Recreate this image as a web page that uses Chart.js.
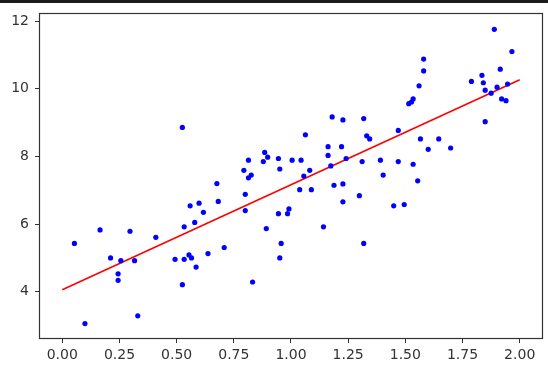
<!DOCTYPE html>
<html>
<head>
<meta charset="utf-8">
<script src="https://cdn.jsdelivr.net/npm/chart.js@4.4.1/dist/chart.umd.min.js"></script>
<style>
  html, body { margin: 0; padding: 0; background: #fff; }
  #wrap { position: relative; width: 548px; height: 372px; }
  #topbar { position: absolute; left: 0; top: 0; width: 548px; height: 3px; background: #1b1b1b; }
</style>
</head>
<body>
<div id="wrap">
  <canvas id="chart" width="548" height="372"></canvas>
  <div id="topbar"></div>
</div>
<script>
// scatter data
const xs = [0.053, 0.099, 0.165, 0.211, 0.244, 0.244, 0.256, 0.296, 0.316, 0.330,
  0.409, 0.493, 0.525, 0.525, 0.533, 0.533, 0.554, 0.565, 0.559, 0.579,
  0.585, 0.598, 0.617, 0.637, 0.676, 0.682, 0.708, 0.794, 0.800, 0.800,
  0.814, 0.814, 0.826, 0.832, 0.879, 0.885, 0.898, 0.892, 0.945, 0.951,
  0.945, 0.957, 0.951, 0.985, 0.991, 1.005, 1.044, 1.038, 1.056, 1.063,
  1.082, 1.089, 1.142, 1.162, 1.162, 1.174, 1.180, 1.188, 1.221, 1.227,
  1.227, 1.227, 1.241, 1.299, 1.311, 1.318, 1.318, 1.331, 1.344, 1.391,
  1.403, 1.449, 1.469, 1.469, 1.495, 1.515, 1.527, 1.534, 1.534, 1.554,
  1.560, 1.566, 1.580, 1.580, 1.600, 1.646, 1.698, 1.789, 1.835, 1.841,
  1.849, 1.849, 1.875, 1.889, 1.901, 1.915, 1.921, 1.940, 1.947, 1.966];
const ys = [5.43, 3.06, 5.83, 5.00, 4.53, 4.34, 4.92, 5.79, 4.92, 3.29,
  5.61, 4.96, 8.86, 4.21, 5.92, 4.96, 5.09, 5.00, 6.54, 6.05,
  4.73, 6.62, 6.35, 5.13, 7.20, 6.67, 5.31, 7.59, 6.88, 6.40,
  7.89, 7.37, 7.45, 4.29, 7.85, 8.12, 7.98, 5.87, 7.94, 7.63,
  6.31, 5.43, 5.00, 6.31, 6.45, 7.89, 7.89, 7.02, 7.42, 8.64,
  7.59, 7.02, 5.92, 8.29, 8.03, 7.72, 9.17, 7.15, 8.29, 9.08,
  7.19, 6.66, 7.94, 6.84, 7.85, 9.12, 5.43, 8.61, 8.52, 7.89,
  7.45, 6.54, 8.77, 7.85, 6.58, 9.56, 9.61, 9.70, 7.77, 7.28,
  10.09, 8.52, 10.53, 10.88, 8.21, 8.52, 8.25, 10.22, 10.40, 10.18,
  9.96, 9.03, 9.87, 11.76, 10.05, 10.58, 9.70, 9.65, 10.14, 11.10];

// fitted line endpoints
const lineX = [0, 2];
const lineY = [4.06, 10.27];

const xTicks = [0, 0.25, 0.5, 0.75, 1.0, 1.25, 1.5, 1.75, 2.0];
const yTicks = [4, 6, 8, 10, 12];

const points = xs.map((x, i) => ({ x: x, y: ys[i] }));
const linePts = lineX.map((x, i) => ({ x: x, y: lineY[i] }));

const frame = {
  id: 'frame',
  afterDraw(chart) {
    const a = chart.chartArea, c = chart.ctx;
    c.save();
    c.strokeStyle = '#333';
    c.lineWidth = 1.2;
    c.strokeRect(Math.round(a.left) - 0.5, Math.round(a.top) - 0.5,
      Math.round(a.right - a.left) + 1, Math.round(a.bottom - a.top) + 1);
    c.restore();
  }
};

const tickFont = { family: 'DejaVu Sans', size: 14 };

new Chart('chart', {
  data: {
    datasets: [{
      type: 'scatter',
      data: points,
      backgroundColor: '#0000ff',
      borderColor: '#0000ff',
      pointRadius: 2.6,
      borderWidth: 0,
      order: 0
    }, {
      type: 'line',
      data: linePts,
      borderColor: '#ff0000',
      borderWidth: 1.6,
      pointRadius: 0,
      fill: false,
      tension: 0,
      order: 1
    }]
  },
  options: {
    responsive: false,
    animation: false,
    layout: { padding: { left: 0, right: 6, top: 11, bottom: 0 } },
    plugins: { legend: { display: false }, tooltip: { enabled: false } },
    scales: {
      x: {
        type: 'linear',
        min: -0.0975,
        max: 2.0975,
        afterBuildTicks: s => { s.ticks = xTicks.map(v => ({ value: v })); },
        afterFit: s => { s.height = 34; },
        ticks: {
          font: tickFont,
          color: '#333',
          padding: 4,
          maxRotation: 0,
          callback: v => v.toFixed(2)
        },
        grid: { drawOnChartArea: false, drawTicks: true, tickLength: 5, tickColor: '#333' },
        border: { display: false }
      },
      y: {
        type: 'linear',
        min: 2.634,
        max: 12.2,
        afterBuildTicks: s => { s.ticks = yTicks.map(v => ({ value: v })); },
        afterFit: s => { s.width = 40; },
        ticks: {
          font: tickFont,
          color: '#333',
          padding: 6,
          callback: v => String(v)
        },
        grid: { drawOnChartArea: false, drawTicks: true, tickLength: 5, tickColor: '#333' },
        border: { display: false }
      }
    }
  },
  plugins: [frame]
});
</script>
</body>
</html>
